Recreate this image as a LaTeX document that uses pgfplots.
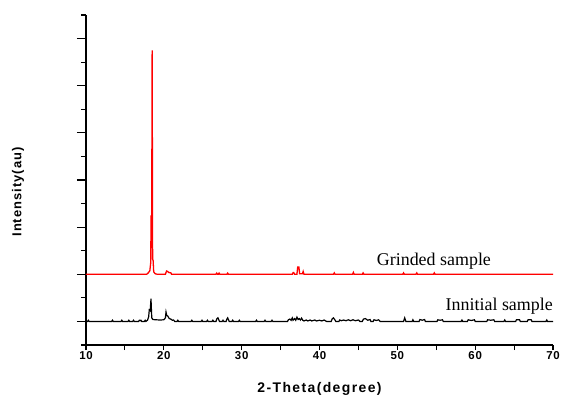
\documentclass[border=0pt]{standalone}
\usepackage{pgfplots}
\pgfplotsset{compat=1.18}
\usepackage{fontspec}
\setmainfont{Liberation Serif}
\newfontfamily\sansx[LetterSpace=10]{Liberation Sans Bold}
\newfontfamily\sansy[LetterSpace=8]{Liberation Sans Bold}
\newfontfamily\sanst[LetterSpace=6]{Liberation Sans Bold}
\begin{document}
\begin{tikzpicture}
\begin{axis}[
  name=ax,
  scale only axis,
  width=467bp, height=330bp,
  xmin=10, xmax=70, ymin=0, ymax=14,
  axis x line=bottom, axis y line=left,
  axis line style={-, line width=1.2pt},
  tick style={line width=1.1pt, black},
  tick align=outside,
  xtick={10,20,...,70},
  minor xtick={10,15,...,70},
  major x tick style={draw=none},
  ytick={1,3,...,13},
  minor ytick={0,2,...,14},
  yticklabels={},
  xtick pos=bottom, ytick pos=left,
  major tick length=9bp, minor tick length=5bp,
  xticklabel style={font=\sanst\fontsize{11.5}{12}\selectfont, inner sep=1pt, yshift=4bp},
  /pgf/number format/assume math mode=true,
  xlabel={2-Theta(degree)},
  ylabel={Intensity(au)},
  xlabel style={font=\sansx\fontsize{14}{16}\selectfont, at={(axis description cs:0.5,0)}, anchor=center, yshift=-44bp},
  ylabel style={font=\sansy\fontsize{13}{15}\selectfont, at={(axis description cs:-0.1456,0.464)}, anchor=center},
  clip=false,
]
\addplot[red, line width=1.3pt] coordinates {
(10,3)(17.8,3)(18.0,3.06)(18.2,3.15)(18.32,3.5)(18.36,5.5)(18.44,5.0)(18.5,12.5)(18.56,3.64)(18.62,3.6)(18.7,3.1)(18.9,3.02)(19.2,3.0)
(20.2,3.0)(20.35,3.14)(20.5,3.12)(20.6,3.08)(20.9,3.06)(21.0,3.0)
(26.7,3)(26.8,3.05)(26.9,3)(27.0,3)(27.1,3.05)(27.2,3)(28.1,3)(28.2,3.05)(28.3,3)
(36.5,3)(36.6,3.07)(36.7,3.07)(36.8,3)(37.1,3)(37.2,3.31)(37.35,3.31)(37.45,3.02)(37.8,3.02)(37.9,3.12)(38.0,3)
(41.8,3)(41.9,3.06)(42,3)(44.25,3)(44.35,3.08)(44.45,3)(45.5,3)(45.6,3.06)(45.7,3)
(50.7,3)(50.8,3.06)(50.9,3)(52.4,3)(52.5,3.06)(52.6,3)(54.65,3)(54.75,3.06)(54.85,3)(70,3)
};
\addplot[black, line width=1.2pt] coordinates {
(10,1)(10.2,1)(10.3,1.05)(10.4,1)
(13.3,1)(13.4,1.05)(13.5,1)(14.5,1)(14.6,1.05)(14.7,1)(15.4,1)(15.5,1.05)(15.6,1)
(16.0,1)(16.1,1.05)(16.2,1)(16.75,1)(16.85,1.05)(16.95,1.03)(17.05,1.05)(17.15,1)
(17.5,1)(17.6,1.05)(17.7,1)(17.9,1.05)
(18.05,1.2)(18.13,1.49)(18.25,1.45)(18.35,1.97)(18.45,1.15)(18.6,1.08)(19.0,1.07)(19.5,1.06)(20.0,1.07)(20.2,1.15)(20.28,1.40)(20.38,1.25)(20.5,1.23)(20.7,1.12)(20.9,1.1)(21.1,1.05)(21.25,1.06)(21.4,1.0)(21.7,1)(21.8,1.05)(21.9,1)
(23.5,1)(23.6,1.05)(23.7,1)
(24.8,1)(24.9,1.05)(25,1)(25.5,1)(25.6,1.05)(25.7,1)(26.2,1)(26.3,1.05)(26.4,1)
(26.7,1)(26.8,1.1)(26.95,1.15)(27.05,1.08)(27.15,1)(27.5,1)(27.6,1.05)(27.7,1)(28.0,1)(28.1,1.1)(28.2,1.15)(28.3,1.08)(28.4,1)(28.75,1)(28.85,1.05)(28.95,1)(29.6,1)(29.7,1.05)(29.8,1)
(31.8,1)(31.9,1.05)(32.0,1)(32.9,1)(33.0,1.05)(33.1,1)(33.8,1)(33.9,1.05)(34.0,1)
(35.9,1)(36.0,1.07)(36.2,1.1)(36.35,1.05)(36.5,1.15)(36.6,1.05)(36.8,1.12)(36.95,1.05)(37.1,1.18)(37.25,1.08)(37.4,1.12)(37.55,1.06)(37.7,1.14)(37.85,1.05)(38.0,1.02)(38.3,1.06)(38.5,1.02)(38.8,1.06)(39.0,1.02)(39.4,1.06)(39.6,1.02)(40.0,1.05)(40.3,1.02)(40.6,1.06)(40.9,1.0)
(41.5,1.0)(41.65,1.12)(41.8,1.15)(41.95,1.08)(42.1,1.0)(42.5,1)(42.6,1.06)(42.8,1.03)(43.1,1.06)(43.4,1.03)(43.7,1.07)(44.0,1.03)(44.3,1.07)(44.6,1.03)(45.0,1.06)(45.2,1.0)(45.5,1.0)(45.65,1.1)(45.9,1.12)(46.2,1.05)(46.5,1.08)(46.6,1.0)(46.9,1.0)(47.0,1.07)(47.3,1.04)(47.6,1.07)(47.8,1.0)
(50.8,1)(50.95,1.15)(51.1,1)(51.9,1)(52.0,1.07)(52.1,1)(52.8,1)(52.9,1.08)(53.2,1.05)(53.5,1.08)(53.6,1)(55.1,1)(55.2,1.07)(55.5,1.05)(55.8,1.07)(55.9,1)(58.2,1)(58.3,1.06)(58.4,1)(59.0,1)(59.1,1.07)(59.5,1.04)(59.9,1.07)(60.0,1)(61.5,1)(61.6,1.07)(62.0,1.05)(62.4,1.07)(62.5,1)(63.7,1)(63.8,1.06)(63.9,1)(65.2,1)(65.3,1.07)(65.7,1.07)(65.8,1)(66.7,1)(66.8,1.07)(67.2,1.07)(67.3,1)(69.1,1)(69.2,1.06)(69.3,1)(70,1)
};
\node[anchor=base west, inner sep=0pt, font=\fontsize{18}{20}\selectfont] at (axis cs:47.35,3.37) {Grinded sample};
\node[anchor=base east, inner sep=0pt, font=\fontsize{18}{20}\selectfont] at (axis cs:70,1.48) {Innitial sample};
\end{axis}
\pgfresetboundingbox
\path ([shift={(-86bp,-51bp)}]ax.south west) rectangle ([shift={(9bp,15bp)}]ax.north east);
\end{tikzpicture}
\end{document}
